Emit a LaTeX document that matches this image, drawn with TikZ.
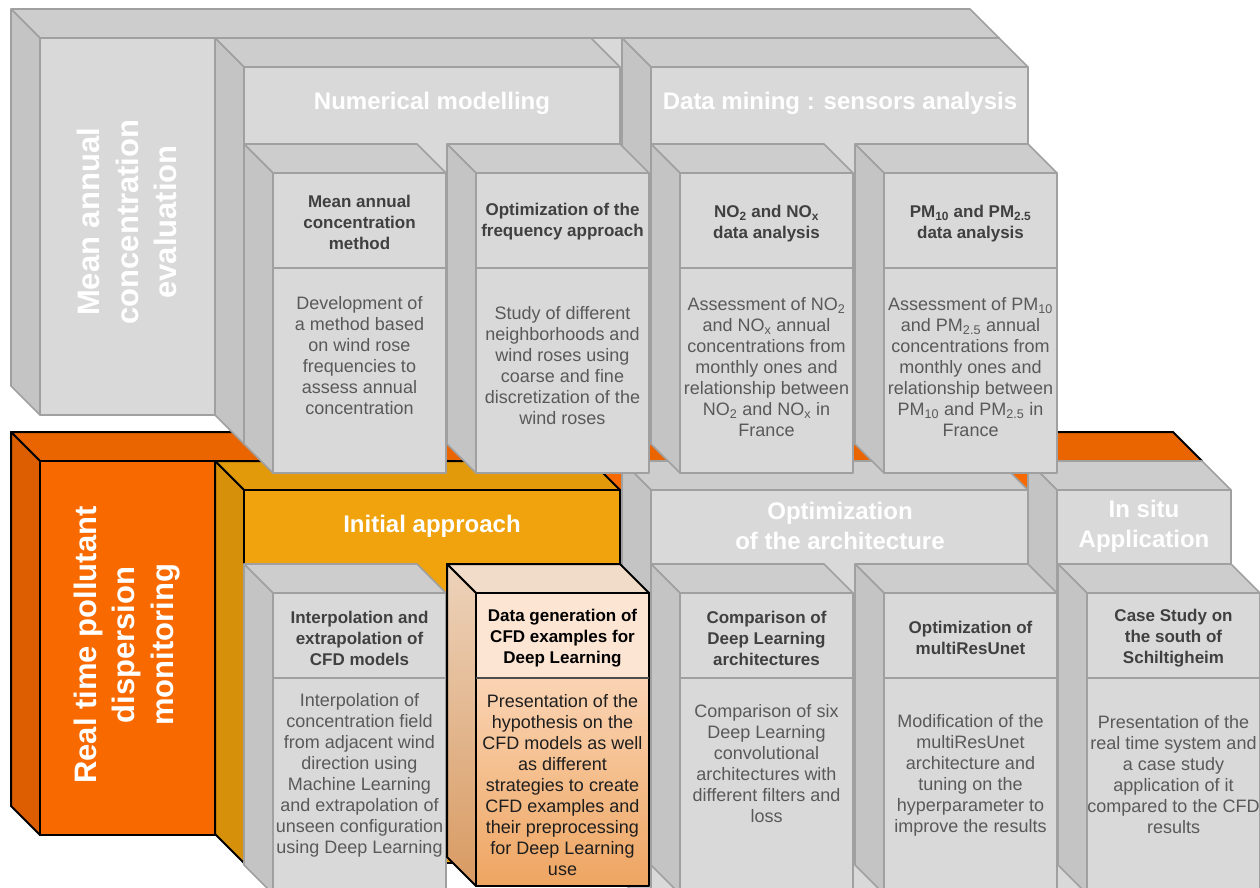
\documentclass[tikz,border=0pt]{standalone}
\usepackage{fontspec}
\setmainfont{Liberation Sans}
\definecolor{gfront}{HTML}{D9D9D9}
\definecolor{gtop}{HTML}{CDCDCD}
\definecolor{gleft}{HTML}{C4C4C4}
\definecolor{gline}{HTML}{A0A0A0}
\definecolor{ofront}{HTML}{F86A00}
\definecolor{otop}{HTML}{EA6500}
\definecolor{oleft}{HTML}{DD5E00}
\definecolor{yfront}{HTML}{F0A30C}
\definecolor{ytop}{HTML}{E29A0B}
\definecolor{yleft}{HTML}{D69009}
\definecolor{ptop}{HTML}{F1DCC9}
\definecolor{phead}{HTML}{FDE5D3}
\definecolor{pbodytop}{HTML}{FAD4B4}
\definecolor{pbodybot}{HTML}{EEA561}
\definecolor{plefttop}{HTML}{EDD3BB}
\definecolor{pleftbot}{HTML}{D89A62}
\definecolor{ttitle}{HTML}{404040}
\definecolor{tbody}{HTML}{595959}
\definecolor{tdark}{HTML}{1E1E1E}
% #1 x, #2 y (front top-left), #3 w, #4 h, #5 front, #6 top, #7 left, #8 line colour, #9 line width
\newcommand\mybox[9]{%
  \filldraw[fill=#6,draw=#8,line width=#9] ({#1-29},{#2-29}) -- ({#1+#3-29},{#2-29}) -- ({#1+#3},{#2}) -- (#1,#2) -- cycle;
  \filldraw[fill=#7,draw=#8,line width=#9] ({#1-29},{#2-29}) -- (#1,#2) -- (#1,{#2+#4}) -- ({#1-29},{#2+#4-29}) -- cycle;
  \filldraw[fill=#5,draw=#8,line width=#9] (#1,#2) rectangle ({#1+#3},{#2+#4});
}
% grey sub-box with divider: #1 x, #2 y, #3 h, #4 divider y
\newcommand\mysub[4]{%
  \mybox{#1}{#2}{173}{#3}{gfront}{gtop}{gleft}{gline}{1.6pt}
  \draw[gline,line width=1.6pt] (#1,#4) -- ({#1+173},#4);
}
\begin{document}
\begin{tikzpicture}[x=1pt,y=-1pt,line join=round,
  ttl/.style={font=\bfseries\fontsize{17}{21}\selectfont,text=ttitle,align=center,inner sep=0pt},
  bdy/.style={font=\fontsize{18}{21}\selectfont,text=tbody,align=center,inner sep=0pt},
  hdr/.style={font=\bfseries\fontsize{24}{30}\selectfont,text=white,align=center,inner sep=0pt},
  big/.style={font=\bfseries\fontsize{31}{38.5}\selectfont,text=white,align=center,inner sep=0pt,rotate=90}]
\useasboundingbox (0,0) rectangle (1260,888);
\clip (0,0) rectangle (1260,888);
\fill[white] (0,0) rectangle (1260,888);
% orange main box
\mybox{40}{461}{1162}{374}{ofront}{otop}{oleft}{black}{2pt}
% second-row groups
\mybox{244}{490}{376}{373}{yfront}{ytop}{yleft}{black}{2pt}
\mybox{651}{490}{377}{420}{gfront}{gtop}{gleft}{gline}{1.6pt}
\mybox{1057}{490}{174}{420}{gfront}{gtop}{gleft}{gline}{1.6pt}
% grey main box
\mybox{40}{38}{959}{377}{gfront}{gtop}{gleft}{gline}{1.6pt}
% first-row groups
\mybox{244}{67}{376}{377}{gfront}{gtop}{gleft}{gline}{1.6pt}
\mybox{651}{67}{377}{377}{gfront}{gtop}{gleft}{gline}{1.6pt}
% upper sub-boxes
\mysub{273}{173}{300}{268}
\mysub{476}{173}{300}{268}
\mysub{680}{173}{300}{268}
\mysub{884}{173}{300}{268}
% lower sub-boxes
\mysub{273}{593}{301}{678}
\mysub{680}{593}{301}{678}
\mysub{884}{593}{301}{678}
\mysub{1087}{593}{301}{678}
% highlighted sub-box
\filldraw[fill=ptop,draw=black,line width=2pt] (447,564) -- (620,564) -- (649,593) -- (476,593) -- cycle;
\shade[top color=plefttop,bottom color=pleftbot] (447,564) -- (476,593) -- (476,886) -- (447,857) -- cycle;
\draw[black,line width=2pt] (447,564) -- (476,593) -- (476,886) -- (447,857) -- cycle;
\fill[phead] (476,593) rectangle (649,678);
\shade[top color=pbodytop,bottom color=pbodybot] (476,678) rectangle (649,886);
\draw[black,line width=2pt] (476,593) rectangle (649,886);
\draw[black!70,line width=1.6pt] (476,678) -- (649,678);
% big rotated titles
\node[big] (tmean) at (127,222) {Mean annual\\concentration\\evaluation};
\node[big] (treal) at (127,645) {Real time pollutant\\dispersion\\monitoring};
% group headers
\node[hdr] (hnum) at (432,103) {Numerical modelling};
\node[hdr] (hdata) at (840,103) {Data mining : sensors analysis};
\node[hdr] (hinit) at (432,526) {Initial approach};
\node[hdr] (hopt) at (840,526) {Optimization\\of the architecture};
\node[hdr] (hsitu) at (1144,526) {In situ\\Application};
% upper sub-box texts
\node[ttl] (t1) at (359.5,222) {Mean annual\\concentration\\method};
\node[bdy] (b1) at (359.5,356) {Development of\\a method based\\on wind rose\\frequencies to\\assess annual\\concentration};
\node[ttl] (t2) at (562.5,222) {Optimization of the\\frequency approach};
\node[bdy] (b2) at (562.5,366) {Study of different\\neighborhoods and\\wind roses using\\coarse and fine\\discretization of the\\wind roses};
\node[ttl] (t3) at (766.5,224) {NO\textsubscript{2} and NO\textsubscript{x}\\data analysis};
\node[bdy] (b3) at (766.5,367) {Assessment of NO\textsubscript{2}\\and NO\textsubscript{x} annual\\concentrations from\\monthly ones and\\relationship between\\NO\textsubscript{2} and NO\textsubscript{x} in\\France};
\node[ttl] (t4) at (970.5,224) {PM\textsubscript{10} and PM\textsubscript{2.5}\\data analysis};
\node[bdy] (b4) at (970.5,367) {Assessment of PM\textsubscript{10}\\and PM\textsubscript{2.5} annual\\concentrations from\\monthly ones and\\relationship between\\PM\textsubscript{10} and PM\textsubscript{2.5} in\\France};
% lower sub-box texts
\node[ttl] (t5) at (359.5,638) {Interpolation and\\extrapolation of\\CFD models};
\node[bdy] (b5) at (359.5,775) {Interpolation of\\concentration field\\from adjacent wind\\direction using\\Machine Learning\\and extrapolation of\\unseen configuration\\using Deep Learning};
\node[ttl,text=black] (t6) at (562.5,638) {Data generation of\\CFD examples for\\Deep Learning};
\node[bdy,text=tdark] (b6) at (562.5,785) {Presentation of the\\hypothesis on the\\CFD models as well\\as different\\strategies to create\\CFD examples and\\their preprocessing\\for Deep Learning\\use};
\node[ttl] (t7) at (766.5,638) {Comparison of\\Deep Learning\\architectures};
\node[bdy] (b7) at (766.5,764) {Comparison of six\\Deep Learning\\convolutional\\architectures with\\different filters and\\loss};
\node[ttl] (t8) at (970.5,638) {Optimization of\\multiResUnet};
\node[bdy] (b8) at (970.5,775) {Modification of the\\multiResUnet\\architecture and\\tuning on the\\hyperparameter to\\improve the results};
\node[ttl] (t9) at (1173.5,638) {Case Study on\\the south of\\Schiltigheim};
\node[bdy] (b9) at (1173.5,775) {Presentation of the\\real time system and\\a case study\\application of it\\compared to the CFD\\results};
\end{tikzpicture}
\end{document}
